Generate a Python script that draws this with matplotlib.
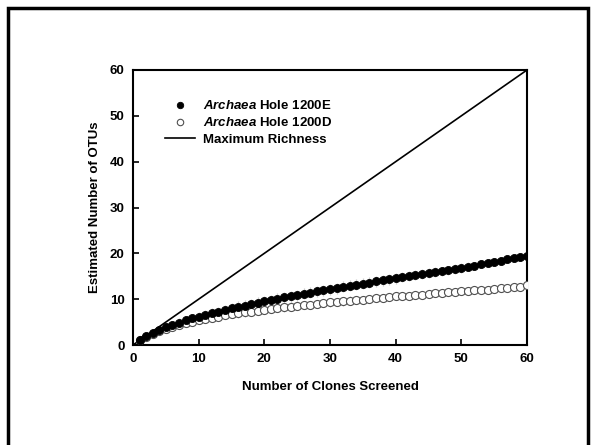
import matplotlib
matplotlib.use("Agg")
import matplotlib.pyplot as plt
from matplotlib.patches import Rectangle

plt.rcParams['font.family'] = ['Liberation Sans', 'DejaVu Sans']
plt.rcParams['font.weight'] = 'bold'
plt.rcParams['mathtext.fontset'] = 'custom'
plt.rcParams['mathtext.it'] = 'Liberation Sans:italic:bold'

clones = list(range(1, 61))

otus_1200e = [1.0, 1.9, 2.6, 3.3, 3.9, 4.4, 4.9, 5.4, 5.8, 6.2,
              6.6, 7.0, 7.3, 7.7, 8.0, 8.3, 8.6, 8.9, 9.2, 9.5,
              9.8, 10.1, 10.4, 10.6, 10.9, 11.2, 11.4, 11.7, 11.9, 12.2,
              12.4, 12.7, 12.9, 13.2, 13.4, 13.6, 13.9, 14.1, 14.3, 14.6,
              14.8, 15.0, 15.2, 15.5, 15.7, 15.9, 16.1, 16.3, 16.6, 16.8,
              17.1, 17.3, 17.6, 17.9, 18.1, 18.4, 18.7, 18.9, 19.2, 19.5]

otus_1200d = [1.0, 1.8, 2.5, 3.1, 3.6, 4.0, 4.4, 4.8, 5.1, 5.4,
              5.7, 6.0, 6.2, 6.5, 6.7, 6.9, 7.1, 7.3, 7.5, 7.7,
              7.9, 8.0, 8.2, 8.4, 8.5, 8.7, 8.8, 9.0, 9.1, 9.3,
              9.4, 9.5, 9.7, 9.8, 9.9, 10.1, 10.2, 10.3, 10.4, 10.6,
              10.7, 10.8, 10.9, 11.0, 11.1, 11.3, 11.4, 11.5, 11.6, 11.7,
              11.8, 11.9, 12.0, 12.1, 12.2, 12.4, 12.5, 12.6, 12.7, 13.0]

err_1200e = [0.0, 0.4, 0.6, 0.7, 0.8, 0.9, 0.9, 1.0, 1.0, 1.0,
             1.1, 1.1, 1.1, 1.1, 1.2, 1.2, 1.2, 1.2, 1.2, 1.2,
             1.2, 1.2, 1.2, 1.2, 1.2, 1.2, 1.2, 1.2, 1.2, 1.2,
             1.2, 1.2, 1.2, 1.2, 1.2, 1.2, 1.2, 1.2, 1.2, 1.2,
             1.1, 1.1, 1.1, 1.1, 1.1, 1.1, 1.0, 1.0, 1.0, 1.0,
             1.0, 0.9, 0.9, 0.9, 0.8, 0.8, 0.7, 0.6, 0.5, 0.0]

err_1200d = [0.0, 0.3, 0.5, 0.6, 0.7, 0.7, 0.8, 0.8, 0.8, 0.8,
             0.9, 0.9, 0.9, 0.9, 0.9, 0.9, 0.9, 0.9, 0.9, 0.9,
             0.9, 0.9, 0.9, 0.9, 0.9, 0.9, 0.9, 0.9, 0.9, 0.9,
             0.9, 0.9, 0.9, 0.9, 0.9, 0.9, 0.8, 0.8, 0.8, 0.8,
             0.8, 0.8, 0.8, 0.8, 0.7, 0.7, 0.7, 0.7, 0.7, 0.6,
             0.6, 0.6, 0.5, 0.5, 0.5, 0.4, 0.4, 0.3, 0.2, 0.0]

max_x = [0, 60]
max_y = [0, 60]

fig = plt.figure(figsize=(5.94, 4.45), dpi=100)
ax = fig.add_axes([133 / 594, 1 - 345 / 445, (527 - 133) / 594, (345 - 70) / 445])

# outer frame of the slide
fig.patches.append(Rectangle((8 / 594, -0.05), (588 - 8) / 594, 1.05 - 8 / 445,
                             transform=fig.transFigure, fill=False,
                             edgecolor='black', linewidth=2.5))

ax.plot(max_x, max_y, color='black', linewidth=1.2, label='Maximum Richness', zorder=2)

ax.errorbar(clones, otus_1200e, yerr=err_1200e, fmt='none', ecolor='#c8c8c8',
            elinewidth=0.9, zorder=1)
ax.errorbar(clones, otus_1200d, yerr=err_1200d, fmt='none', ecolor='#c8c8c8',
            elinewidth=0.9, zorder=1)

ax.plot(clones, otus_1200e, linestyle='none', marker='o', markersize=5.8,
        markerfacecolor='black', markeredgecolor='black', markeredgewidth=0.6,
        label=r'$\it{Archaea}$ Hole 1200E', zorder=4)
ax.plot(clones, otus_1200d, linestyle='none', marker='o', markersize=5.8,
        markerfacecolor='white', markeredgecolor='#505050', markeredgewidth=0.8,
        label=r'$\it{Archaea}$ Hole 1200D', zorder=3)

ax.set_xlim(0, 60)
ax.set_ylim(0, 60)
ax.set_xticks(range(0, 61, 10))
ax.set_yticks(range(0, 61, 10))
ax.tick_params(direction='in', length=4, width=1.2, labelsize=9.5, pad=6)
for lab in ax.get_xticklabels() + ax.get_yticklabels():
    lab.set_fontweight('bold')
for sp in ax.spines.values():
    sp.set_linewidth(1.5)

ax.set_xlabel('Number of Clones Screened', fontsize=9.5, fontweight='bold', labelpad=11)
ax.set_ylabel('Estimated Number of OTUs', fontsize=9.5, fontweight='bold', labelpad=6)

handles, labels = ax.get_legend_handles_labels()
order = [1, 2, 0]
leg = ax.legend([handles[i] for i in order], [labels[i] for i in order],
                loc='upper left', bbox_to_anchor=(0.081, 0.893), frameon=False,
                fontsize=9.5, handlelength=2.3, handletextpad=0.55,
                labelspacing=0.3, borderaxespad=0, borderpad=0, markerscale=0.8)
for t in leg.get_texts():
    t.set_fontweight('bold')

fig.savefig('out.png', dpi=100)
